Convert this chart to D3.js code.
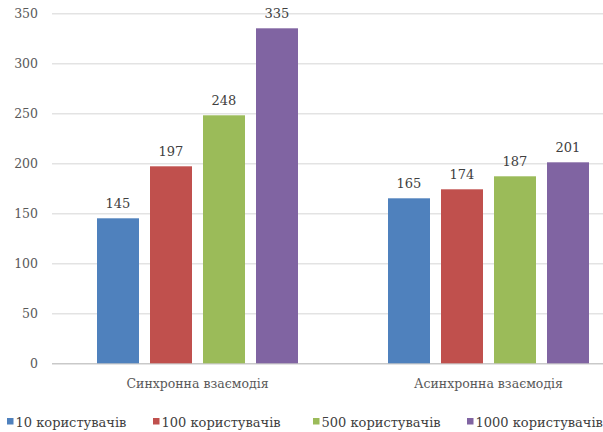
<!DOCTYPE html>
<html>
<head>
<meta charset="utf-8">
<script src="https://cdn.jsdelivr.net/npm/d3@7"></script>
<style>
  html, body { margin: 0; padding: 0; background: #fff; }
  svg { display: block; }
  text { font-family: "DejaVu Serif", "Liberation Serif", serif; }
</style>
</head>
<body>
<svg id="chart" width="603" height="432"></svg>
<script>
// Interaction modes on the horizontal axis
const categories = ["Синхронна взаємодія", "Асинхронна взаємодія"];
// Number of concurrent users, one series per colour
const seriesNames = ["10 користувачів", "100 користувачів", "500 користувачів", "1000 користувачів"];
const seriesColors = ["#4f81bd", "#c0504d", "#9bbb59", "#8064a2"];
// Values per series, ordered like categories
const values10 = [145, 165];
const values100 = [197, 174];
const values500 = [248, 187];
const values1000 = [335, 201];
const yTicks = [0, 50, 100, 150, 200, 250, 300, 350];

const seriesValues = [values10, values100, values500, values1000];
const rows = categories.map((c, i) => ({
  category: c,
  bars: seriesNames.map((s, j) => ({ series: s, color: seriesColors[j], value: seriesValues[j][i] }))
}));

const svg = d3.select("#chart");
const plot = { left: 52, right: 634, top: 13.3, bottom: 363.3 };

const x = d3.scaleBand().domain(categories).range([plot.left, plot.right]).paddingInner(0).paddingOuter(0);
const xs = d3.scaleBand().domain(seriesNames).range([45, 291 - 45]).paddingInner(11 / 53).paddingOuter(0);
const y = d3.scaleLinear().domain([0, 350]).range([plot.bottom, plot.top]);

// Horizontal gridlines and tick labels
const yAxis = d3.axisLeft(y).tickValues(yTicks).tickSize(-(603 - plot.left)).tickPadding(14).tickFormat(d3.format("d"));
const gy = svg.append("g").attr("transform", `translate(${plot.left},0)`).call(yAxis);
gy.select(".domain").remove();
gy.selectAll(".tick line")
  .attr("stroke", d => d === 0 ? "#c9c9c9" : "#e3e3e3")
  .attr("stroke-width", 1.5);
gy.selectAll(".tick text")
  .attr("fill", "#595959")
  .attr("font-size", 12.5)
  .attr("font-family", "\"DejaVu Serif\", serif");

// Bars
const groups = svg.append("g").selectAll("g.cat").data(rows).join("g")
  .attr("class", "cat")
  .attr("transform", d => `translate(${x(d.category)},0)`);

groups.selectAll("rect").data(d => d.bars).join("rect")
  .attr("x", d => xs(d.series))
  .attr("width", xs.bandwidth())
  .attr("y", d => y(d.value))
  .attr("height", d => y(0) - y(d.value))
  .attr("fill", d => d.color);

// Value labels above bars
groups.selectAll("text.val").data(d => d.bars).join("text")
  .attr("class", "val")
  .attr("x", d => xs(d.series) + xs.bandwidth() / 2)
  .attr("y", d => y(d.value) - 10)
  .attr("text-anchor", "middle")
  .attr("fill", "#404040")
  .attr("font-size", 13)
  .text(d => d.value);

// Category labels
svg.append("g").selectAll("text").data(categories).join("text")
  .attr("x", d => x(d) + x.bandwidth() / 2)
  .attr("y", 388)
  .attr("text-anchor", "middle")
  .attr("fill", "#595959")
  .attr("font-size", 12.5)
  .text(d => d);

// Legend
const legendX = [7, 153, 313, 467];
const legend = svg.append("g").selectAll("g").data(seriesNames).join("g")
  .attr("transform", (d, i) => `translate(${legendX[i]},418)`);
legend.append("rect").attr("width", 6.5).attr("height", 6.5)
  .attr("fill", (d, i) => seriesColors[i]);
legend.append("text").attr("x", 8.5).attr("y", 8.5)
  .attr("fill", "#404040")
  .attr("font-size", 13)
  .text(d => d);
</script>
</body>
</html>
